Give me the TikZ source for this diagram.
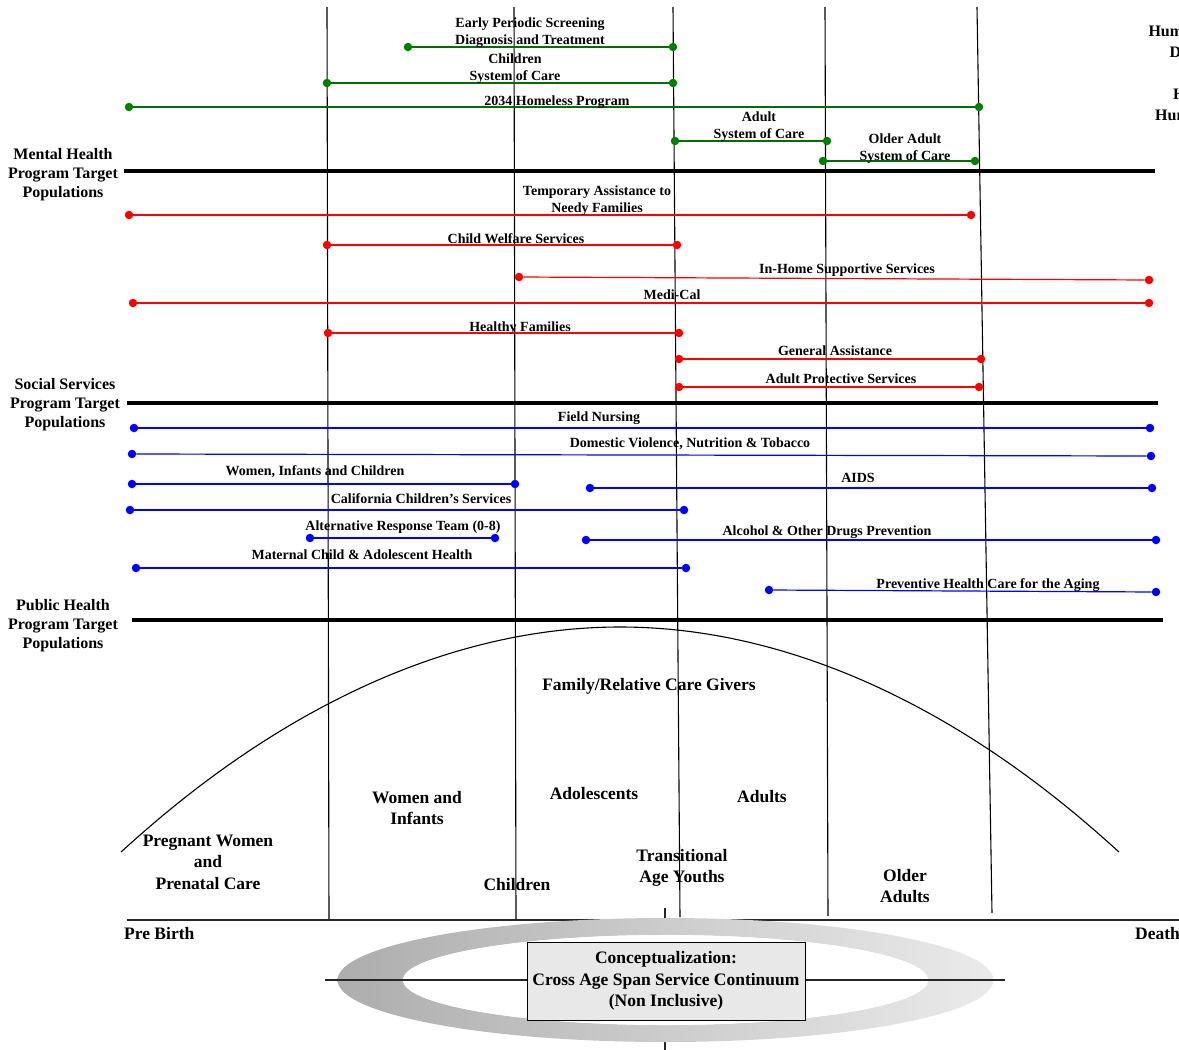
\documentclass[tikz,border=0pt]{standalone}
\usepackage{fontspec}
\setmainfont{Liberation Serif}
\usetikzlibrary{positioning}
\definecolor{mhgreen}{RGB}{0,128,0}
\definecolor{ssred}{RGB}{255,0,0}
\definecolor{phblue}{RGB}{0,0,255}

\begin{document}
\begin{tikzpicture}[x=1pt, y=-1pt,
  lbl/.style = {font=\bfseries\fontsize{14}{17}\selectfont, align=center, inner sep=0pt, anchor=base},
  side/.style = {font=\bfseries\fontsize{16}{19}\selectfont, align=center, inner sep=0pt, anchor=base},
  age/.style = {font=\bfseries\fontsize{17.5}{21.5}\selectfont, align=center, inner sep=0pt, anchor=base},
  gdot/.style = {circle, fill=mhgreen, inner sep=0pt, minimum size=8.5pt},
  rdot/.style = {circle, fill=ssred, inner sep=0pt, minimum size=8.5pt},
  bdot/.style = {circle, fill=phblue, inner sep=0pt, minimum size=8.5pt},
  gline/.style = {mhgreen!85!black, line width=1.2pt},
  rline/.style = {ssred, line width=1.2pt},
  bline/.style = {phblue, line width=1.2pt},
  bar/.style = {line width=3.5pt},
  span/.style = {line width=1.1pt}]
\useasboundingbox (0,0) rectangle (1179,1050);

% age dividers
\coordinate (v1t) at (327,7);  \coordinate (v1b) at (329,920);
\coordinate (v2t) at (514,7);  \coordinate (v2b) at (516,920);
\coordinate (v3t) at (673,7);  \coordinate (v3b) at (680,917);
\coordinate (v4t) at (825,7);  \coordinate (v4b) at (828,916);
\coordinate (v5t) at (977,7);  \coordinate (v5b) at (992,913);
\draw[span] (v1t) -- (v1b);
\draw[span] (v2t) -- (v2b);
\draw[span] (v3t) -- (v3b);
\draw[span] (v4t) -- (v4b);
\draw[span] (v5t) -- (v5b);

% mental health
\node[gdot] (ep1) at (408,47) {};
\node[gdot] (ep2) at (673,47) {};
\node[gdot] (cs1) at (327,83) {};
\node[gdot] (cs2) at (673,83) {};
\node[gdot] (hp1) at (129,107) {};
\node[gdot] (hp2) at (979,107) {};
\node[gdot] (as1) at (675,141) {};
\node[gdot] (as2) at (827,141) {};
\node[gdot] (os1) at (823,161) {};
\node[gdot] (os2) at (975,161) {};
\draw[gline] (ep1) -- (ep2);
\draw[gline] (cs1) -- (cs2);
\draw[gline] (hp1) -- (hp2);
\draw[gline] (as1) -- (as2);
\draw[gline] (os1) -- (os2);
\node[lbl] (epsdt) at (530,44) {Early Periodic Screening\\Diagnosis and Treatment};
\node[lbl] (csoc) at (515,80) {Children\\System of Care};
\node[lbl] (homeless) at (557,105) {2034 Homeless Program};
\node[lbl] (asoc) at (759,138) {Adult\\System of Care};
\node[lbl] (osoc) at (905,160) {Older Adult\\System of Care};

% social services
\node[rdot] (ta1) at (129,215) {};
\node[rdot] (ta2) at (971,215) {};
\node[rdot] (cw1) at (327,245) {};
\node[rdot] (cw2) at (677,245) {};
\node[rdot] (ih1) at (519,277) {};
\node[rdot] (ih2) at (1149,280) {};
\node[rdot] (mc1) at (133,303) {};
\node[rdot] (mc2) at (1149,303) {};
\node[rdot] (hf1) at (328,333) {};
\node[rdot] (hf2) at (679,333) {};
\node[rdot] (ga1) at (679,359) {};
\node[rdot] (ga2) at (981,359) {};
\node[rdot] (ap1) at (679,387) {};
\node[rdot] (ap2) at (979,387) {};
\draw[rline] (ta1) -- (ta2);
\draw[rline] (cw1) -- (cw2);
\draw[rline] (ih1) -- (ih2);
\draw[rline] (mc1) -- (mc2);
\draw[rline] (hf1) -- (hf2);
\draw[rline] (ga1) -- (ga2);
\draw[rline] (ap1) -- (ap2);
\node[lbl] (tanf) at (597,212) {Temporary Assistance to\\Needy Families};
\node[lbl] (cws) at (516,243.5) {Child Welfare Services};
\node[lbl] (ihss) at (847,273.5) {In-Home Supportive Services};
\node[lbl] (medical) at (672,299.5) {Medi-Cal};
\node[lbl] (healthy) at (520,331.5) {Healthy Families};
\node[lbl] (genasst) at (835,355.5) {General Assistance};
\node[lbl] (aps) at (841,383.5) {Adult Protective Services};

% public health
\node[bdot] (fn1) at (134,428) {};
\node[bdot] (fn2) at (1150,428) {};
\node[bdot] (dv1) at (132,454) {};
\node[bdot] (dv2) at (1151,456) {};
\node[bdot] (wi1) at (132,484) {};
\node[bdot] (wi2) at (515,484) {};
\node[bdot] (ai1) at (590,488) {};
\node[bdot] (ai2) at (1152,488) {};
\node[bdot] (cc1) at (130,510) {};
\node[bdot] (cc2) at (684,510) {};
\node[bdot] (ar1) at (310,538) {};
\node[bdot] (ar2) at (495,538) {};
\node[bdot] (ad1) at (586,540) {};
\node[bdot] (ad2) at (1156,540) {};
\node[bdot] (ma1) at (136,568) {};
\node[bdot] (ma2) at (686,568) {};
\node[bdot] (pa1) at (769,590) {};
\node[bdot] (pa2) at (1156,592) {};
\draw[bline] (fn1) -- (fn2);
\draw[bline] (dv1) -- (dv2);
\draw[bline] (wi1) -- (wi2);
\draw[bline] (ai1) -- (ai2);
\draw[bline] (cc1) -- (cc2);
\draw[bline] (ar1) -- (ar2);
\draw[bline] (ad1) -- (ad2);
\draw[bline] (ma1) -- (ma2);
\draw[bline] (pa1) -- (pa2);
\node[lbl] (fnurse) at (599,421.5) {Field Nursing};
\node[lbl] (dvnt) at (690,447.5) {Domestic Violence, Nutrition \& Tobacco};
\node[lbl] (wic) at (315,475.5) {Women, Infants and Children};
\node[lbl] (aids) at (858,482.5) {AIDS};
\node[lbl] (ccs) at (421,503.5) {California Children's Services};
\node[lbl] (art) at (403,530.5) {Alternative Response Team (0-8)};
\node[lbl] (aodp) at (827,535.5) {Alcohol \& Other Drugs Prevention};
\node[lbl] (mcah) at (362,559.5) {Maternal Child \& Adolescent Health};
\node[lbl] (phca) at (988,588.5) {Preventive Health Care for the Aging};

% program bars
\coordinate (mhL) at (124,171); \coordinate (mhR) at (1155,171);
\coordinate (ssL) at (127,403); \coordinate (ssR) at (1158,403);
\coordinate (phL) at (132,620); \coordinate (phR) at (1163,620);
\draw[bar] (mhL) -- (mhR);
\draw[bar] (ssL) -- (ssR);
\draw[bar] (phL) -- (phR);
\node[side] (mhlbl) at (63,197.5) {Mental Health\\Program Target\\Populations};
\node[side] (sslbl) at (65,427.5) {Social Services\\Program Target\\Populations};
\node[side] (phlbl) at (63,648.5) {Public Health\\Program Target\\Populations};
\node[font=\bfseries\fontsize{16}{21}\selectfont, align=center, inner sep=0pt, anchor=base] (dept) at (1211,120.5)
  {Humboldt County\\Department\\[21pt]Health and\\Human Services};

% care givers curve and age groups
\coordinate (arcL) at (121,852);
\coordinate (arcR) at (1119,852);
\draw[span] (arcL) parabola bend (620,627) (arcR);
\node[age] (family) at (649,690) {Family/Relative Care Givers};
\node[age] (pregnant) at (208,889) {Pregnant Women\\and\\Prenatal Care};
\node[age] (infants) at (417,824.5) {Women and\\Infants};
\node[age] (adolesc) at (594,799) {Adolescents};
\node[age] (adults) at (762,802) {Adults};
\node[age] (tay) at (682,882.5) {Transitional\\Age Youths};
\node[age] (children) at (517,890) {Children};
\node[age] (older) at (905,902.5) {Older\\Adults};

% time axis
\coordinate (axL) at (127,920);
\coordinate (axR) at (1179,920);
\draw[span, black!85] (axL) -- (axR);
\node[age, anchor=base west] (prebirth) at (124,939) {Pre Birth};
\node[age, anchor=base west] (death) at (1135,939) {Death};

% conceptualization badge
\coordinate (mid) at (665.5,980);
\coordinate (tickT) at (665,908);
\coordinate (tickB) at (665,1050);
\draw[span, black!85] (tickT) -- (tickB);
\path[even odd rule, left color=black!32, right color=black!8]
  (mid) ellipse [x radius=328, y radius=62]
  (mid) ellipse [x radius=262.5, y radius=45];
\fill[white] (mid) ellipse [x radius=262.5, y radius=45];
\coordinate (hzL) at (325,980);
\coordinate (hzR) at (1005,980);
\draw[span, black!85] (hzL) -- (hzR);
\node[draw, fill=black!9, line width=0.9pt, minimum width=278pt, minimum height=78pt,
  font=\bfseries\fontsize{17.5}{21.5}\selectfont, align=center] (concept) at (666,981)
  {Conceptualization:\\Cross Age Span Service Continuum\\(Non Inclusive)};
\end{tikzpicture}
\end{document}
